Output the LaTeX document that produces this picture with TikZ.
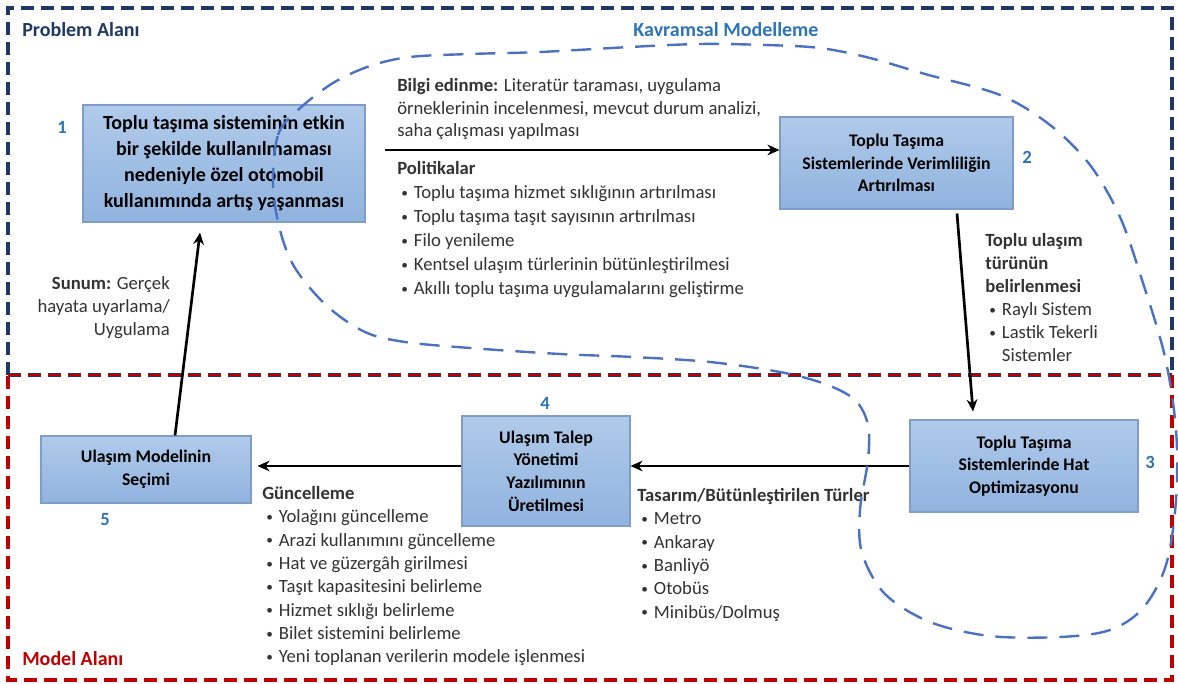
\documentclass[tikz,border=0pt]{standalone}
\usepackage{fontspec}
\setmainfont{Carlito}
\usetikzlibrary{arrows.meta,calc}
\definecolor{navy}{HTML}{1F3864}
\definecolor{darkred}{HTML}{C00000}
\definecolor{kblue}{HTML}{2E75B6}
\definecolor{curveblue}{HTML}{4A72C0}
\definecolor{boxtop}{HTML}{B0CAEA}
\definecolor{boxbot}{HTML}{90B3DF}
\definecolor{boxline}{HTML}{7F9DC6}
\definecolor{txt}{HTML}{333333}
\newcommand{\bl}{\makebox[12.5pt][l]{\hspace{3pt}\raisebox{0.9pt}{\fontsize{10}{10}\selectfont•}}}
\newcommand{\nbl}{\makebox[12.5pt][l]{}}
\begin{document}
\begin{tikzpicture}[x=0.75pt,y=-0.75pt,
  box/.style={draw=boxline, line width=0.8pt, top color=boxtop, bottom color=boxbot,
    align=center, inner sep=0pt, text=black, font=\bfseries\fontsize{13.3}{17}\selectfont},
  num/.style={text=kblue, font=\bfseries\fontsize{14}{16}\selectfont, inner sep=0pt},
  arr/.style={line width=2pt, -{Stealth[length=9pt,width=8pt]}},
  txtblock/.style={align=left, inner sep=0pt, anchor=north west, text=txt, font=\fontsize{14}{18}\selectfont},
  area/.style={line width=2.4pt, dash pattern=on 10pt off 5pt},
  curve/.style={curveblue, line width=1.8pt, dash pattern=on 15pt off 9pt},
  title/.style={inner sep=0pt, font=\bfseries\fontsize{15}{17}\selectfont}
]
\useasboundingbox (0,0) rectangle (1178,684);
\fill[white] (0,0) rectangle (1178,684);

% areas
\draw[area, navy] (8,375) -- (8,8) -- (1172,8) -- (1172,375);
\draw[area, darkred] (1172,375) -- (1172,680) -- (8,680) -- (8,375);
\draw[navy, line width=3.2pt, dash pattern=on 10pt off 5pt] (8,375) -- (1172,375);
\draw[darkred, line width=1.8pt, dash pattern=on 10pt off 5pt] (8,375) -- (1172,375);

\node[title, text=navy, anchor=west] (pa) at (22,30) {Problem Alanı};
\node[title, text=kblue] (km) at (726,30) {Kavramsal Modelleme};
\node[title, text=darkred, anchor=west] (ma) at (22,659) {Model Alanı};

% boxes
\node[box, minimum width=211.5pt, minimum height=87.75pt, font=\bfseries\fontsize{15}{19.5}\selectfont]
  (box1) at (224,163.5) {Toplu taşıma sisteminin etkin\\ bir şekilde kullanılmaması\\ nedeniyle özel otomobil\\ kullanımında artış yaşanması};
\node[box, minimum width=174.75pt, minimum height=69pt] (box2) at (896.5,163)
  {Toplu Taşıma\\ Sistemlerinde Verimliliğin\\ Artırılması};
\node[box, minimum width=171pt, minimum height=69pt] (box3) at (1024,466)
  {Toplu Taşıma\\ Sistemlerinde Hat\\ Optimizasyonu};
\node[box, minimum width=126pt, minimum height=82.5pt] (box4) at (546,471)
  {Ulaşım Talep\\ Yönetimi\\ Yazılımının\\ Üretilmesi};
\node[box, minimum width=157.5pt, minimum height=50.25pt] (box5) at (146,469.5)
  {Ulaşım Modelinin\\ Seçimi};

% numbers
\node[num] (n1) at (62,127) {1};
\node[num] (n2) at (1027,157) {2};
\node[num] (n3) at (1150,462) {3};
\node[num] (n4) at (545,403) {4};
\node[num] (n5) at (105,520) {5};

% arrows
\coordinate (a12) at (385,150);
\draw[arr] (a12) -- (a12 -| box2.west);
\draw[arr] ($(box2.south)+(60.5,4)$) -- ($(box3.north)+(-51,-8)$);
\draw[arr] (box3.west) -- (box4.east |- box3.west);
\draw[arr] (box4.west |- box3.west) -- ($(box5.east |- box3.west)+(6,0)$);
\draw[arr] ($(box5.north)+(29,0)$) -- ($(box1.south)+(-24,10)$);

% text blocks
\node[txtblock, font=\fontsize{14}{17}\selectfont] (bilgi) at (397,78)
  {\textbf{Bilgi edinme:} Literatür taraması, uygulama\\
   örneklerinin incelenmesi, mevcut durum analizi,\\
   saha çalışması yapılması};
\node[txtblock] (pol) at (397,161)
  {\textbf{Politikalar}\\
   \bl Toplu taşıma hizmet sıklığının artırılması\\
   \bl Toplu taşıma taşıt sayısının artırılması\\
   \bl Filo yenileme\\
   \bl Kentsel ulaşım türlerinin bütünleştirilmesi\\
   \bl Akıllı toplu taşıma uygulamalarını geliştirme};
\node[txtblock, font=\fontsize{14}{17.3}\selectfont] (tur) at (985,233)
  {\textbf{Toplu ulaşım}\\
   \textbf{türünün}\\
   \textbf{belirlenmesi}\\
   \bl Raylı Sistem\\
   \bl Lastik Tekerli\\
   \nbl Sistemler};
\node[txtblock, anchor=north east, align=right, font=\fontsize{14}{17.5}\selectfont] (sunum) at (170,276)
  {\textbf{Sunum:} Gerçek\\ hayata uyarlama/\\ Uygulama};
\node[txtblock, font=\fontsize{14}{17.5}\selectfont] (gunc) at (262,486)
  {\textbf{Güncelleme}\\
   \bl Yolağını güncelleme\\
   \bl Arazi kullanımını güncelleme\\
   \bl Hat ve güzergâh girilmesi\\
   \bl Taşıt kapasitesini belirleme\\
   \bl Hizmet sıklığı belirleme\\
   \bl Bilet sistemini belirleme\\
   \bl Yeni toplanan verilerin modele işlenmesi};
\node[txtblock, font=\fontsize{14}{17.5}\selectfont] (tas) at (637,488)
  {\textbf{Tasarım/Bütünleştirilen Türler}\\
   \bl Metro\\
   \bl Ankaray\\
   \bl Banliyö\\
   \bl Otobüs\\
   \bl Minibüs/Dolmuş};

% conceptual modelling boundary
\draw[curve] plot[smooth cycle, tension=0.55] coordinates {
 (273,185) (278,135) (298,110) (333,83) (370,66) (410,57) (470,54) (540,52) (630,47)
 (700,44) (765,45) (820,48) (870,58) (925,74) (1000,95) (1050,125) (1090,165)
 (1120,217) (1143,283) (1165,357) (1176,430) (1176,500) (1166,565) (1143,608)
 (1110,630) (1060,637) (990,636) (930,622) (885,594) (862,553) (860,510)
 (868,460) (868,425) (855,400) (825,384) (780,372) (710,362) (633,357)
 (560,354) (470,348) (405,342) (365,332) (327,306) (295,268) (280,230)
};
\end{tikzpicture}
\end{document}
